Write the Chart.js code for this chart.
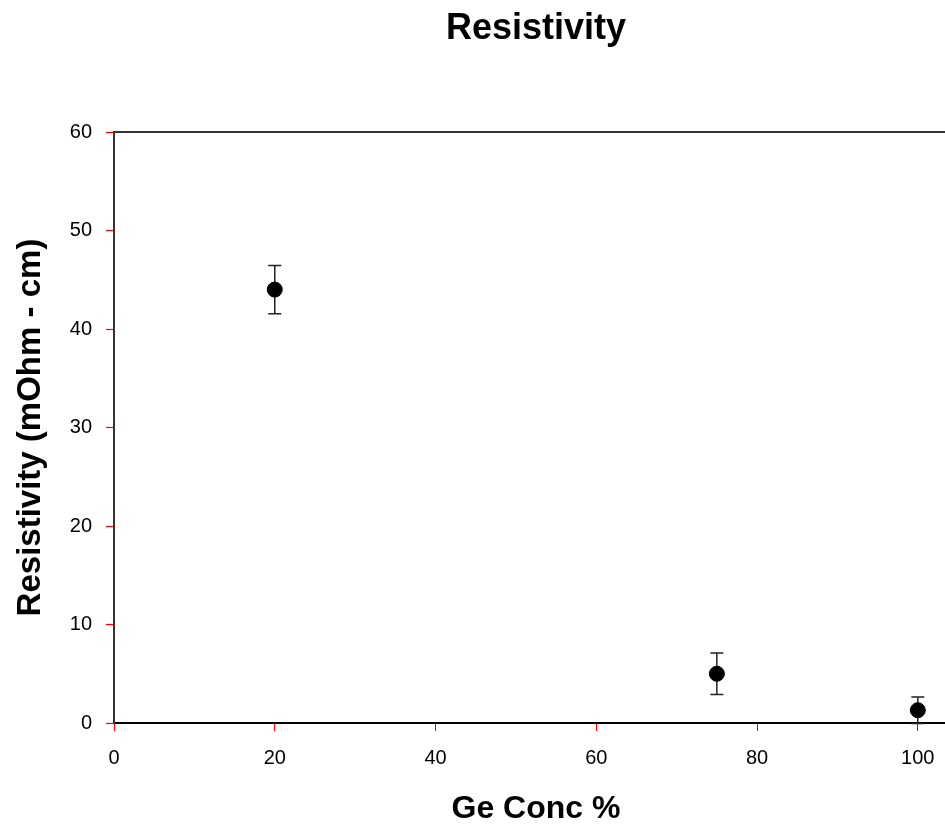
<!DOCTYPE html>
<html lang="en">
<head>
  <meta charset="UTF-8">
  <title>Resistivity</title>
  <script src="https://cdn.jsdelivr.net/npm/chart.js"></script>
  <style>
    html, body { margin: 0; padding: 0; background: #fff; overflow: hidden; }
    .wrap { width: 1072px; height: 828px; }
  </style>
</head>
<body>
  <div class="wrap">
    <canvas id="resChart" width="1072" height="828"></canvas>
  </div>
  <script>
    // data
    const geConc = [20, 75, 100];
    const resistivity = [44.0, 5.0, 1.3];
    const resErr = [2.45, 2.1, 1.35];
    const xTicks = [0, 20, 40, 60, 80, 100];
    const yTicks = [0, 10, 20, 30, 40, 50, 60];

    const FONT = "Arial, 'Liberation Sans', sans-serif";

    // chart title, centred over the plot area
    const plotTitle = {
      id: 'plotTitle',
      afterDraw(chart) {
        const { ctx, chartArea: a } = chart;
        ctx.save();
        ctx.fillStyle = '#000';
        ctx.font = 'bold 36px ' + FONT;
        ctx.textAlign = 'center';
        ctx.textBaseline = 'alphabetic';
        ctx.fillText('Resistivity', (a.left + a.right) / 2, 39);
        ctx.restore();
      }
    };

    // frame around the plot area (top/right lines)
    const frame = {
      id: 'frame',
      afterDraw(chart) {
        const { ctx, chartArea: a } = chart;
        ctx.save();
        ctx.strokeStyle = '#333';
        ctx.lineWidth = 2;
        ctx.beginPath();
        ctx.moveTo(a.left, a.top);
        ctx.lineTo(a.right, a.top);
        ctx.lineTo(a.right, a.bottom);
        ctx.stroke();
        ctx.restore();
      }
    };

    // vertical error bars with caps
    const errorBars = {
      id: 'errorBars',
      beforeDatasetsDraw(chart) {
        const { ctx, scales: { x, y } } = chart;
        ctx.save();
        ctx.strokeStyle = '#222';
        ctx.lineWidth = 1.5;
        geConc.forEach((g, i) => {
          const px = x.getPixelForValue(g);
          const top = y.getPixelForValue(resistivity[i] + resErr[i]);
          const bot = y.getPixelForValue(resistivity[i] - resErr[i]);
          ctx.beginPath();
          ctx.moveTo(px, top); ctx.lineTo(px, bot);
          ctx.moveTo(px - 6.5, top); ctx.lineTo(px + 6.5, top);
          ctx.moveTo(px - 6.5, bot); ctx.lineTo(px + 6.5, bot);
          ctx.stroke();
        });
        ctx.restore();
      }
    };

    new Chart(document.getElementById('resChart'), {
      type: 'scatter',
      data: {
        datasets: [{
          data: geConc.map((g, i) => ({ x: g, y: resistivity[i] })),
          backgroundColor: '#000',
          borderColor: '#000',
          pointRadius: 7.5,
          pointHoverRadius: 7.5
        }]
      },
      options: {
        responsive: false,
        animation: false,
        layout: { padding: { left: 0, right: 114, top: 132, bottom: 0 } },
        plugins: {
          legend: { display: false },
          tooltip: { enabled: false },
          title: { display: false }
        },
        scales: {
          x: {
            type: 'linear',
            min: 0,
            max: 105,
            afterBuildTicks: s => { s.ticks = xTicks.map(v => ({ value: v })); },
            afterFit: s => { s.height = 105; },
            border: { color: '#000', width: 2 },
            grid: { drawOnChartArea: false, tickColor: 'red', tickLength: 8, tickWidth: 1 },
            ticks: { color: '#000', padding: 15, maxRotation: 0, font: { family: FONT, size: 20 } },
            title: {
              display: true,
              text: 'Ge Conc %',
              color: '#000',
              font: { family: FONT, size: 32, weight: 'bold' },
              padding: { top: 0, bottom: 0 }
            }
          },
          y: {
            type: 'linear',
            min: 0,
            max: 60,
            afterBuildTicks: s => { s.ticks = yTicks.map(v => ({ value: v })); },
            afterFit: s => { s.width = 114; },
            border: { color: '#333', width: 2 },
            grid: { drawOnChartArea: false, tickColor: 'red', tickLength: 8, tickWidth: 1.2 },
            ticks: { color: '#000', padding: 14, font: { family: FONT, size: 20 } },
            title: {
              display: true,
              text: 'Resistivity (mOhm - cm)',
              color: '#000',
              font: { family: FONT, size: 33, weight: 'bold' },
              padding: { top: 11.5, bottom: 0 }
            }
          }
        }
      },
      plugins: [plotTitle, frame, errorBars]
    });
  </script>
</body>
</html>
